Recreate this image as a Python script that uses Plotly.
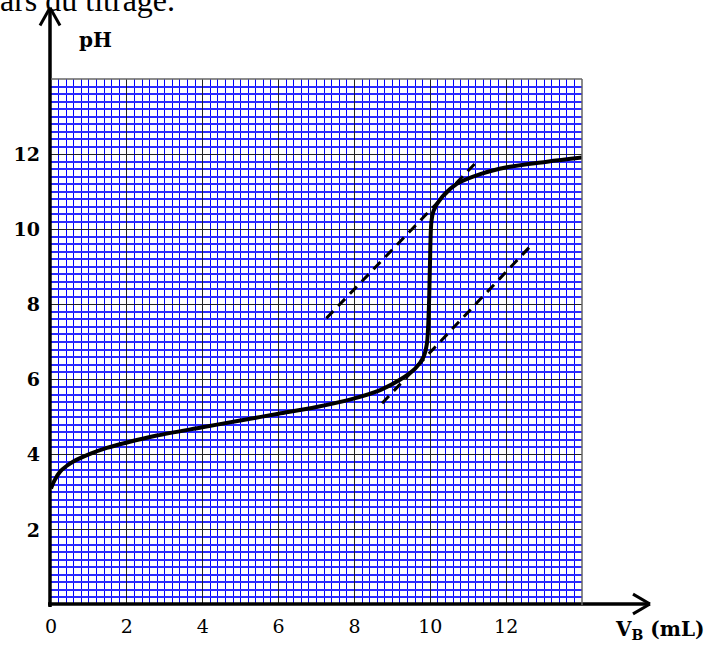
import plotly.graph_objects as go

# ---- data ----
vb_ml = [0, 0.1, 0.24, 0.41, 0.59, 1.03, 1.47, 1.98, 2.79, 3.99, 4.99, 6.0, 7.0, 8.0,
         8.68, 9.21, 9.6, 9.82, 9.91, 9.96, 9.99, 10.03, 10.09, 10.31, 10.7,
         11.32, 12.02, 13.08, 14.0]
ph = [3.1, 3.33, 3.55, 3.70, 3.82, 4.02, 4.18, 4.32, 4.51, 4.73, 4.91, 5.09, 5.27, 5.50,
      5.72, 6.0, 6.29, 6.6, 6.95, 7.83, 9.0, 10.2, 10.5, 10.86, 11.21,
      11.47, 11.65, 11.8, 11.91]

tangent_high_v = [7.26, 11.19]
tangent_high_ph = [7.63, 11.76]
tangent_low_v = [8.73, 12.61]
tangent_low_ph = [5.37, 9.52]

# tick labels hidden on each axis (the rest show their value)
x_hidden_ticks = ["14"]
y_hidden_ticks = ["0", "14"]

W, H = 709, 649
ML, MR, MT, MB = 51, 127, 79, 38
PW, PH = W - ML - MR, H - MT - MB


def px(x):
    return (x - ML) / PW


def py(y):
    return (H - MB - y) / PH


fig = go.Figure()
for tv, tp in ((tangent_high_v, tangent_high_ph), (tangent_low_v, tangent_low_ph)):
    fig.add_trace(go.Scatter(x=tv, y=tp, mode="lines",
                             line=dict(color="black", width=3, dash="10px,7px"),
                             hoverinfo="skip", showlegend=False))
fig.add_trace(go.Scatter(x=vb_ml, y=ph, mode="lines",
                         line=dict(color="black", width=4, shape="spline", smoothing=0.9),
                         showlegend=False, cliponaxis=False))

common = dict(range=[0, 14], showgrid=True, gridcolor="#222222", gridwidth=1,
              zeroline=False, showline=False, ticks="",
              tickmode="linear", tick0=0, dtick=2)
fig.update_xaxes(**common,
                 minor=dict(tickmode="linear", tick0=0, dtick=0.2, showgrid=True,
                            gridcolor="#0000ff", gridwidth=1, ticks=""),
                 labelalias={t: " " for t in x_hidden_ticks},
                 tickfont=dict(family="DejaVu Serif", size=19, color="black"),
                 ticklabelstandoff=8)
fig.update_yaxes(**common,
                 minor=dict(tickmode="linear", tick0=0, dtick=0.2, showgrid=True,
                            gridcolor="#2b2bff", gridwidth=1.6, ticks=""),
                 labelalias={t: " " for t in y_hidden_ticks},
                 tickfont=dict(family="DejaVu Serif", size=19, color="black", weight="bold"),
                 ticklabelstandoff=10)

shapes = []
lw = 3.5
# y axis with open arrow head
shapes.append(dict(type="line", xref="paper", yref="paper", x0=px(50), x1=px(50),
                   y0=py(613), y1=py(7), line=dict(color="black", width=lw)))
shapes.append(dict(type="line", xref="paper", yref="paper", x0=px(40), x1=px(50),
                   y0=py(25), y1=py(7), line=dict(color="black", width=3)))
shapes.append(dict(type="line", xref="paper", yref="paper", x0=px(60), x1=px(50),
                   y0=py(25), y1=py(7), line=dict(color="black", width=3)))
# x axis with open arrow head
shapes.append(dict(type="line", xref="paper", yref="paper", x0=px(48), x1=px(650),
                   y0=py(610), y1=py(610), line=dict(color="black", width=lw)))
shapes.append(dict(type="line", xref="paper", yref="paper", x0=px(633), x1=px(650),
                   y0=py(600), y1=py(610), line=dict(color="black", width=3)))
shapes.append(dict(type="line", xref="paper", yref="paper", x0=px(633), x1=px(650),
                   y0=py(620), y1=py(610), line=dict(color="black", width=3)))
# top / right border of the graph paper
shapes.append(dict(type="line", xref="paper", yref="paper", x0=0, x1=1, y0=1, y1=1,
                   line=dict(color="#666", width=1.5)))
shapes.append(dict(type="line", xref="paper", yref="paper", x0=1, x1=1, y0=0, y1=1,
                   line=dict(color="#666", width=1.5)))

annotations = [
    dict(text="<b>pH</b>", xref="paper", yref="paper", x=px(95), y=py(40),
         xanchor="center", yanchor="middle", showarrow=False,
         font=dict(family="DejaVu Serif", size=20, color="black")),
    dict(text="<b>V<sub>B</sub> (mL)</b>", xref="paper", yref="paper", x=px(707), y=py(636),
         xanchor="right", yanchor="middle", showarrow=False,
         font=dict(family="DejaVu Serif", size=20, color="black")),
    dict(text="ars du titrage.", xref="paper", yref="paper", x=px(-2), y=py(-1),
         xanchor="left", yanchor="middle", showarrow=False,
         font=dict(family="Liberation Serif", size=32, color="black")),
]

fig.update_layout(
    width=W, height=H,
    margin=dict(l=ML, r=MR, t=MT, b=MB, pad=0),
    paper_bgcolor="white", plot_bgcolor="white",
    shapes=shapes, annotations=annotations, showlegend=False,
)

fig.write_html("out.html", config={"displayModeBar": False},
               post_script="document.body.style.margin='0px';document.body.style.overflow='hidden';")
